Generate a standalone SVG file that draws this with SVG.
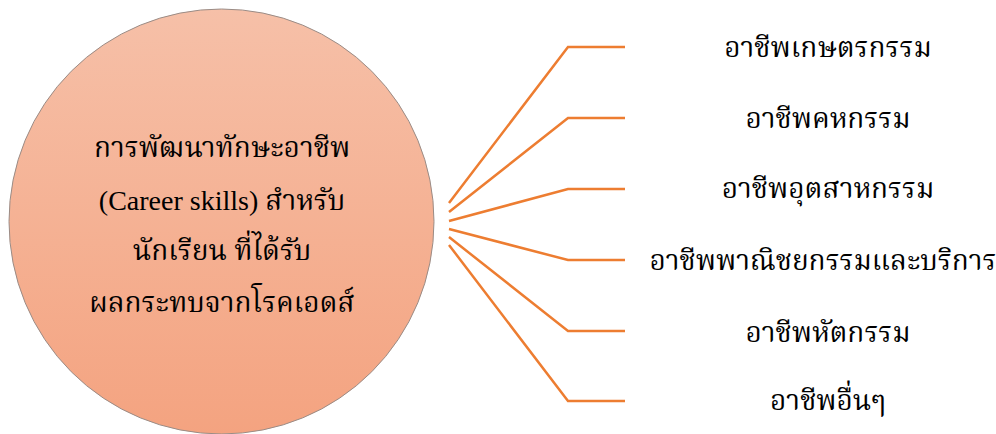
<svg xmlns="http://www.w3.org/2000/svg" width="996" height="434" viewBox="0 0 996 434">
<defs>
<linearGradient id="g" x1="0" y1="0" x2="0" y2="1">
<stop offset="0" stop-color="#F6C0A8"/>
<stop offset="1" stop-color="#F4A380"/>
</linearGradient>
<style>
.t{font-family:'Noto Serif Thai','Liberation Serif','Noto Sans Thai',serif;font-size:28px;fill:#000;text-anchor:middle}
.l{font-family:'Liberation Serif',serif}
.c{fill:none;stroke:#ED7D31;stroke-width:2.5}
</style>
</defs>
<rect width="996" height="434" fill="#fff"/>
<g id="center">
<circle cx="221.5" cy="221.5" r="212.5" fill="url(#g)" stroke="#9A8C86" stroke-width="1"/>
<text class="t" x="222" y="157">การพัฒนาทักษะอาชีพ</text>
<text class="t" x="222" y="210"><tspan class="l">(Career skills) </tspan>สำหรับ</text>
<text class="t" x="222" y="260">นักเรียน ที่ได้รับ</text>
<text class="t" x="222" y="312">ผลกระทบจากโรคเอดส์</text>
</g>
<g id="connectors">
<polyline class="c" points="449,203 568,47 625,47"/>
<polyline class="c" points="449,212 568,118 625,118"/>
<polyline class="c" points="449,221 568,189 625,189"/>
<polyline class="c" points="449,229 568,260 625,260"/>
<polyline class="c" points="449,237 568,331 625,331"/>
<polyline class="c" points="449,245 568,401 625,401"/>
</g>
<g id="n1"><text class="t" x="828" y="57">อาชีพเกษตรกรรม</text></g>
<g id="n2"><text class="t" x="828" y="128">อาชีพคหกรรม</text></g>
<g id="n3"><text class="t" x="828" y="198">อาชีพอุตสาหกรรม</text></g>
<g id="n4"><text class="t" x="823" y="270">อาชีพพาณิชยกรรมและบริการ</text></g>
<g id="n5"><text class="t" x="828" y="342">อาชีพหัตกรรม</text></g>
<g id="n6"><text class="t" x="828" y="410">อาชีพอื่นๆ</text></g>
</svg>
